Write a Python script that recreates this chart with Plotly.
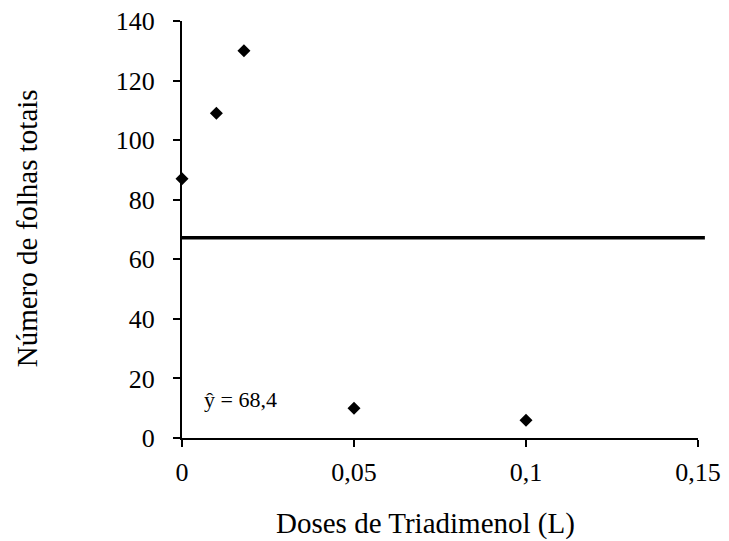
import plotly.graph_objects as go

# Data
doses = [0, 0.01, 0.018, 0.05, 0.1]
folhas = [87, 109, 130, 10, 6]
media_y = 67.2          # drawn position of fitted mean line
media_x_end = 0.152     # line runs slightly past last tick
x_ticks = [0, 0.05, 0.1, 0.15]
x_ticktext = ["0", "0,05", "0,1", "0,15"]
y_ticks = [0, 20, 40, 60, 80, 100, 120, 140]
eq_text = "ŷ = 68,4"

FONT = "Liberation Serif"
x_max = 0.15

fig = go.Figure()
fig.add_trace(go.Scatter(
    x=doses, y=folhas, mode="markers",
    marker=dict(symbol="diamond", size=10, color="black"),
    cliponaxis=False, showlegend=False,
))

fig.add_shape(type="line", xref="paper", yref="y",
              x0=0, x1=media_x_end / x_max, y0=media_y, y1=media_y,
              line=dict(color="black", width=3.5))

fig.add_annotation(x=0.017, y=12.8, xref="x", yref="y", text=eq_text,
                   showarrow=False, font=dict(family=FONT, size=22, color="black"))

fig.add_annotation(x=(425 - 182) / 516, y=(438 - 523) / 417, xref="paper", yref="paper",
                   text="Doses de Triadimenol (L)", showarrow=False,
                   xanchor="center", yanchor="middle",
                   font=dict(family=FONT, size=29, color="black"))
fig.add_annotation(x=(27 - 182) / 516, y=0.503, xref="paper", yref="paper",
                   text="Número de folhas totais", showarrow=False, textangle=-90,
                   xanchor="center", yanchor="middle",
                   font=dict(family=FONT, size=29, color="black"))

axis_common = dict(showline=True, linecolor="black", linewidth=2,
                   ticks="outside", ticklen=7, tickwidth=2, tickcolor="black",
                   showgrid=False, zeroline=False, ticklabeloverflow="allow",
                   automargin=False,
                   tickfont=dict(family=FONT, size=26, color="black"))

# page body has an 8px default margin, so the figure is 8px smaller each way
fig.update_layout(
    width=721, height=533,
    margin=dict(l=174, r=31, t=13, b=103, autoexpand=False),
    paper_bgcolor="white", plot_bgcolor="white",
    xaxis=dict(range=[0, x_max], tickvals=x_ticks, ticktext=x_ticktext,
               ticklabelstandoff=3, **axis_common),
    yaxis=dict(range=[0, 140], tickvals=y_ticks, ticklabelstandoff=13, **axis_common),
)

fig.write_html("out.html")
